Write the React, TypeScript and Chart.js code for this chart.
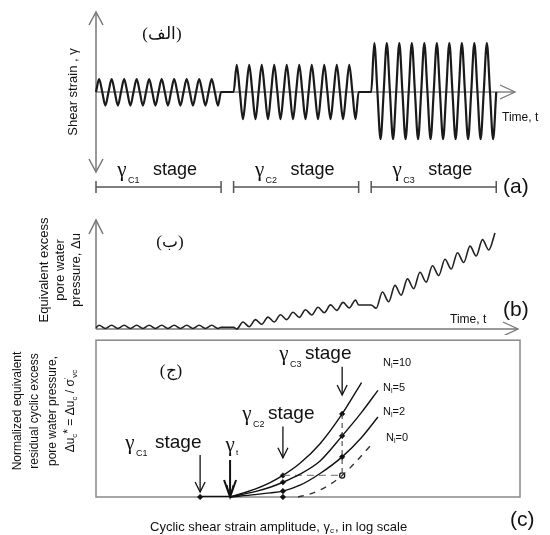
import React, { useEffect, useRef } from "react";
import { Chart, registerables } from "chart.js";

Chart.register(...registerables);

// ---------------- Panel (a): cyclic shear strain history ----------------
const stageNames = ["C1", "C2", "C3"];
const stageStartTimes = [0, 11, 22];
const stageEndTimes = [10, 21, 32];
const strainPeaksC1 = [0.16, 0.16, 0.16, 0.16, 0.16, 0.16, 0.16, 0.16, 0.16, 0.16];
const strainTroughsC1 = [-0.17, -0.17, -0.17, -0.17, -0.17, -0.17, -0.17, -0.17, -0.17, -0.17];
const strainPeaksC2 = [0.34, 0.34, 0.34, 0.34, 0.34, 0.34, 0.34, 0.34, 0.34, 0.34];
const strainTroughsC2 = [-0.34, -0.34, -0.34, -0.34, -0.34, -0.34, -0.34, -0.34, -0.34, -0.34];
const strainPeaksC3 = [0.61, 0.61, 0.61, 0.61, 0.61, 0.61, 0.61, 0.61, 0.61, 0.61];
const strainTroughsC3 = [-0.59, -0.59, -0.59, -0.59, -0.59, -0.59, -0.59, -0.59, -0.59, -0.59];

// ---------------- Panel (b): equivalent excess pore water pressure ----------------
const poreExtremesC1 = [0.035, 0.005, 0.035, 0.005, 0.035, 0.005, 0.035, 0.005, 0.035, 0.005,
  0.035, 0.005, 0.035, 0.005, 0.035, 0.005, 0.035, 0.005, 0.035, 0.005];
const poreExtremesC2 = [0.0, 0.064, 0.021, 0.086, 0.043, 0.109, 0.064, 0.131, 0.086, 0.154,
  0.107, 0.176, 0.129, 0.199, 0.15, 0.221, 0.171, 0.244, 0.193, 0.266];
const poreExtremesC3 = [0.19, 0.34, 0.25, 0.40, 0.31, 0.46, 0.37, 0.52, 0.43, 0.58,
  0.49, 0.64, 0.55, 0.70, 0.61, 0.76, 0.67, 0.82, 0.725, 0.88];
const poreStageStartValues = [0.01, 0.015, 0.22];
const poreStageEndValues = [0.015, 0.22, NaN];
const poreFirstExtremeOffset = [0.25, 0.25, 0.4];

// ---------------- Panel (c): normalized residual pore pressure vs strain ----------------
const gammaC1 = 0.0096;
const gammaT = 0.0184;
const gammaC2 = 0.058;
const gammaC3 = 0.21;
const curveGammas = [0.0184, 0.0316, 0.0439, 0.058, 0.084, 0.13, 0.21, 0.32, 0.457];
const n10Values = [0, 0.05, 0.092, 0.1375, 0.215, 0.34, 0.53, 0.73];
const n5Values = [0, 0.034, 0.062, 0.094, 0.146, 0.23, 0.39, 0.54, 0.68];
const n2Values = [0, 0.015, 0.026, 0.0375, 0.075, 0.15, 0.256, 0.38, 0.51];
const n0Gammas = [0.0805, 0.105, 0.13, 0.161, 0.21, 0.284, 0.385];
const n0Values = [0, 0.02, 0.045, 0.08, 0.1375, 0.225, 0.325];
const cycleLabels = ["10", "5", "2", "0"];

const SANS = "'Liberation Sans', Arial, sans-serif";
const SERIF = "'Liberation Serif', 'Times New Roman', serif";
const INK = "#111";

type Part = { t: string; font: string; dy?: number };

function drawRich(ctx: CanvasRenderingContext2D, x: number, y: number, parts: Part[], align: "left" | "center") {
  let w = 0;
  for (const p of parts) { ctx.font = p.font; w += ctx.measureText(p.t).width; }
  let cx = align === "center" ? x - w / 2 : x;
  ctx.textAlign = "left";
  ctx.textBaseline = "middle";
  for (const p of parts) {
    ctx.font = p.font;
    ctx.fillText(p.t, cx, y + (p.dy || 0));
    cx += ctx.measureText(p.t).width;
  }
}

function text(ctx: CanvasRenderingContext2D, s: string, x: number, y: number, font: string, align: CanvasTextAlign = "left") {
  ctx.font = font;
  ctx.textAlign = align;
  ctx.textBaseline = "middle";
  ctx.fillText(s, x, y);
}

function rotatedLines(ctx: CanvasRenderingContext2D, lines: (string | Part[])[], xs: number[], cy: number, font: string) {
  lines.forEach((ln, i) => {
    ctx.save();
    ctx.translate(xs[i], cy);
    ctx.rotate(-Math.PI / 2);
    if (typeof ln === "string") text(ctx, ln, 0, 0, font, "center");
    else drawRich(ctx, 0, 0, ln, "center");
    ctx.restore();
  });
}

function chevron(ctx: CanvasRenderingContext2D, tx: number, ty: number, dir: "up" | "down" | "right", len: number, half: number) {
  ctx.beginPath();
  if (dir === "up") { ctx.moveTo(tx - half, ty + len); ctx.lineTo(tx, ty); ctx.lineTo(tx + half, ty + len); }
  if (dir === "down") { ctx.moveTo(tx - half, ty - len); ctx.lineTo(tx, ty); ctx.lineTo(tx + half, ty - len); }
  if (dir === "right") { ctx.moveTo(tx - len, ty - half); ctx.lineTo(tx, ty); ctx.lineTo(tx - len, ty + half); }
  ctx.stroke();
}

function downArrow(ctx: CanvasRenderingContext2D, x: number, y1: number, y2: number, lw: number, len: number, half: number) {
  ctx.lineWidth = lw;
  ctx.beginPath(); ctx.moveTo(x, y1); ctx.lineTo(x, y2); ctx.stroke();
  chevron(ctx, x, y2, "down", len, half);
}

function stageLabel(ctx: CanvasRenderingContext2D, gx: number, y: number, sub: string, stageX: number, gSize: number, sSize: number) {
  ctx.fillStyle = INK;
  text(ctx, "γ", gx, y, `${gSize}px ${SERIF}`, "center");
  text(ctx, sub, gx + 6, y + 11, `${Math.round(gSize * 0.45)}px ${SANS}`, "left");
  text(ctx, "stage", stageX, y, `${sSize}px ${SANS}`, "left");
}

function buildStrainWave() {
  const peaks = [strainPeaksC1, strainPeaksC2, strainPeaksC3];
  const troughs = [strainTroughsC1, strainTroughsC2, strainTroughsC3];
  const pts: { x: number; y: number }[] = [];
  for (let s = 0; s < 3; s++) {
    const start = stageStartTimes[s];
    pts.push({ x: start, y: 0 });
    for (let k = 0; k < peaks[s].length; k++) {
      const t0 = start + k;
      pts.push({ x: t0 + 0.25, y: peaks[s][k] });
      pts.push({ x: t0 + 0.5, y: 0 });
      pts.push({ x: t0 + 0.75, y: troughs[s][k] });
      pts.push({ x: t0 + 1, y: 0 });
    }
  }
  return pts;
}

function buildPoreWave() {
  const ext = [poreExtremesC1, poreExtremesC2, poreExtremesC3];
  const pts: { x: number; y: number }[] = [];
  for (let s = 0; s < 3; s++) {
    pts.push({ x: stageStartTimes[s], y: poreStageStartValues[s] });
    ext[s].forEach((v, k) => pts.push({ x: stageStartTimes[s] + poreFirstExtremeOffset[s] + 0.5 * k, y: v }));
    if (!isNaN(poreStageEndValues[s])) pts.push({ x: stageEndTimes[s], y: poreStageEndValues[s] });
  }
  return pts;
}

const baseOptions = (padding: any, xScale: any, yScale: any, plugin: any) => ({
  responsive: false,
  animation: false as const,
  devicePixelRatio: 1,
  events: [] as any[],
  layout: { padding },
  plugins: { legend: { display: false }, tooltip: { enabled: false }, title: { display: false } },
  scales: { x: { ...xScale, display: false }, y: { ...yScale, display: false } },
});

export default function App() {
  const refA = useRef<HTMLCanvasElement>(null);
  const refB = useRef<HTMLCanvasElement>(null);
  const refC = useRef<HTMLCanvasElement>(null);

  useEffect(() => {
    // ---------- Chart (a) ----------
    const pluginA = {
      id: "decoA",
      beforeDatasetsDraw(chart: any) {
        const { ctx, scales } = chart;
        const xs = scales.x, ys = scales.y;
        const x0 = xs.getPixelForValue(0), y0 = ys.getPixelForValue(0);
        ctx.save();
        ctx.strokeStyle = "#777"; ctx.lineWidth = 1.5;
        ctx.beginPath(); ctx.moveTo(x0, ys.top); ctx.lineTo(x0, ys.bottom); ctx.stroke();
        chevron(ctx, x0, ys.top, "up", 13, 7);
        chevron(ctx, x0, ys.bottom, "down", 13, 7);
        ctx.strokeStyle = "#444"; ctx.lineWidth = 1;
        ctx.beginPath(); ctx.moveTo(x0, y0); ctx.lineTo(xs.right, y0); ctx.stroke();
        ctx.strokeStyle = "#777"; ctx.lineWidth = 1.3;
        chevron(ctx, xs.right, y0, "right", 15, 7);
        ctx.restore();
      },
      afterDraw(chart: any) {
        const { ctx, scales } = chart;
        const xs = scales.x, ys = scales.y;
        ctx.save();
        ctx.fillStyle = INK;
        text(ctx, "Time, t", 502, 118, `12px ${SANS}`);
        rotatedLines(ctx, ["Shear strain , γ"], [73], ys.getPixelForValue(0), `13px ${SANS}`);
        text(ctx, "(الف)", 162, 35, `17px ${SERIF}`, "center");
        const by = 187;
        ctx.strokeStyle = "#555"; ctx.lineWidth = 1.5;
        for (let s = 0; s < 3; s++) {
          const a = xs.getPixelForValue(stageStartTimes[s]);
          const b = xs.getPixelForValue(stageEndTimes[s]);
          ctx.beginPath();
          ctx.moveTo(a, by); ctx.lineTo(b, by);
          ctx.moveTo(a, by - 6); ctx.lineTo(a, by + 6);
          ctx.moveTo(b, by - 6); ctx.lineTo(b, by + 6);
          ctx.stroke();
          stageLabel(ctx, a + 26, 170, stageNames[s], a + 57, 21, 18);
        }
        text(ctx, "(a)", 503, 187, `21px ${SANS}`);
        ctx.restore();
      },
    };
    const chartA = new Chart(refA.current!, {
      type: "line",
      data: {
        datasets: [{
          data: buildStrainWave(),
          borderColor: "#1a1a1a", borderWidth: 2.2, pointRadius: 0,
          cubicInterpolationMode: "monotone", clip: false as any,
        }],
      },
      options: baseOptions({ left: 96, right: 35, top: 12, bottom: 28 },
        { type: "linear", min: 0, max: 33.5 }, { type: "linear", min: -1, max: 1 }, null) as any,
      plugins: [pluginA],
    });

    // ---------- Chart (b) ----------
    const pluginB = {
      id: "decoB",
      beforeDatasetsDraw(chart: any) {
        const { ctx, scales } = chart;
        const xs = scales.x, ys = scales.y;
        const x0 = xs.getPixelForValue(0), y0 = ys.getPixelForValue(0);
        ctx.save();
        ctx.strokeStyle = "#777"; ctx.lineWidth = 1.5;
        ctx.beginPath(); ctx.moveTo(x0, ys.top); ctx.lineTo(x0, y0); ctx.stroke();
        chevron(ctx, x0, ys.top, "up", 14, 7);
        ctx.lineWidth = 1.3;
        ctx.beginPath(); ctx.moveTo(x0, y0); ctx.lineTo(xs.right + 3, y0); ctx.stroke();
        chevron(ctx, xs.right + 3, y0, "right", 15, 7);
        ctx.restore();
      },
      afterDraw(chart: any) {
        const { ctx } = chart;
        ctx.save();
        ctx.fillStyle = INK;
        text(ctx, "Time, t", 450, 120, `12px ${SANS}`);
        text(ctx, "(b)", 503, 110, `21px ${SANS}`);
        text(ctx, "(ب)", 170, 43, `17px ${SERIF}`, "center");
        rotatedLines(ctx, ["Equivalent excess", "pore water", "pressure, Δu"], [44, 60, 76], 70, `13px ${SANS}`);
        ctx.restore();
      },
    };
    const chartB = new Chart(refB.current!, {
      type: "line",
      data: {
        datasets: [{
          data: buildPoreWave(),
          borderColor: "#222", borderWidth: 1.6, pointRadius: 0,
          cubicInterpolationMode: "monotone", clip: false as any,
        }],
      },
      options: baseOptions({ left: 96, right: 35, top: 20, bottom: 6 },
        { type: "linear", min: 0, max: 33.5 }, { type: "linear", min: 0, max: 1 }, null) as any,
      plugins: [pluginB],
    });

    // ---------- Chart (c) ----------
    const pluginC = {
      id: "decoC",
      beforeDatasetsDraw(chart: any) {
        const { ctx, chartArea } = chart;
        ctx.save();
        ctx.strokeStyle = "#888"; ctx.lineWidth = 1.5;
        ctx.strokeRect(chartArea.left, chartArea.top, chartArea.right - chartArea.left, chartArea.bottom - chartArea.top);
        ctx.restore();
      },
      afterDraw(chart: any) {
        const { ctx, scales } = chart;
        const xs = scales.x, ys = scales.y;
        ctx.save();
        ctx.fillStyle = INK; ctx.strokeStyle = INK;
        const f12 = `12px ${SANS}`, f8 = `8px ${SANS}`;
        rotatedLines(ctx, [
          "Normalized equivalent",
          "residual cyclic excess",
          "pore water pressure,",
          [
            { t: "Δu", font: f12 }, { t: "c", font: f8, dy: 4 }, { t: "*", font: f12, dy: -2 },
            { t: " = Δu", font: f12 }, { t: "c", font: f8, dy: 4 }, { t: " / σ", font: f12 },
            { t: "'", font: f8, dy: -4 }, { t: "vc", font: f8, dy: 4 },
          ],
        ], [18, 35, 53, 71], 76, f12);
        text(ctx, "(ج)", 171, 37, `17px ${SERIF}`, "center");

        const pC1 = xs.getPixelForValue(gammaC1), pT = xs.getPixelForValue(gammaT);
        const pC2 = xs.getPixelForValue(gammaC2), pC3 = xs.getPixelForValue(gammaC3);
        const base = ys.getPixelForValue(0);
        downArrow(ctx, pC1, base - 42, base - 5, 1.3, 10, 5);
        downArrow(ctx, pT, base - 37, base, 2, 17, 6);
        ctx.lineWidth = 1; chevron(ctx, pT, base, "down", 12, 3);
        downArrow(ctx, pC2, ys.getPixelForValue(0.45), ys.getPixelForValue(0.25), 1.3, 10, 5);
        downArrow(ctx, pC3, ys.getPixelForValue(0.83), ys.getPixelForValue(0.65), 1.3, 10, 5);

        stageLabel(ctx, 130, 108, "C1", 155, 21, 19);
        text(ctx, "γ", pT, 110, `21px ${SERIF}`, "center");
        text(ctx, "t", pT + 6, 118, `8px ${SANS}`);
        stageLabel(ctx, 247, 79, "C2", 268, 21, 19);
        stageLabel(ctx, 284, 19, "C3", 305, 21, 19);

        const ny = [28, 53, 77, 103];
        cycleLabels.forEach((n, i) => {
          drawRich(ctx, i === 3 ? 386 : 383, ny[i], [
            { t: "N", font: `11px ${SANS}` }, { t: "l", font: `7px ${SANS}`, dy: 3 }, { t: "=" + n, font: `11px ${SANS}` },
          ], "left");
        });
        text(ctx, "Cyclic shear strain amplitude, γ", 150, 192, `13px ${SANS}`);
        ctx.font = `13px ${SANS}`;
        const w1 = ctx.measureText("Cyclic shear strain amplitude, γ").width;
        text(ctx, "c", 150 + w1, 196, `8px ${SANS}`);
        text(ctx, ", in log scale", 150 + w1 + 5, 192, `13px ${SANS}`);
        text(ctx, "(c)", 510, 185, `21px ${SANS}`);
        ctx.restore();
      },
    };
    const pts = (xs: number[], ys: number[]) => ys.map((v, i) => ({ x: xs[i], y: v }));
    const solid = (data: any) => ({
      data, borderColor: "#111", borderWidth: 1.4, pointRadius: 0,
      cubicInterpolationMode: "monotone", clip: false,
    });
    const chartC = new Chart(refC.current!, {
      type: "line",
      data: {
        datasets: [
          { data: [{ x: gammaC1, y: 0 }, { x: gammaT, y: 0 }], borderColor: "#111", borderWidth: 2.6, pointRadius: 0 },
          solid(pts(curveGammas, n10Values)),
          solid(pts(curveGammas, n5Values)),
          solid(pts(curveGammas, n2Values)),
          { ...solid(pts(n0Gammas, n0Values)), borderDash: [6, 6], borderColor: "#333" },
          { data: [{ x: gammaC2, y: n10Values[3] }, { x: gammaC3, y: n0Values[4] }], borderColor: "#888", borderWidth: 1.3, borderDash: [7, 5], pointRadius: 0 },
          { data: [{ x: gammaC3, y: n10Values[6] }, { x: gammaC3, y: n0Values[4] }], borderColor: "#555", borderWidth: 1.2, borderDash: [5, 4], pointRadius: 0 },
          {
            data: [
              { x: gammaC1, y: 0 }, { x: gammaC2, y: 0 },
              { x: gammaC2, y: n10Values[3] }, { x: gammaC2, y: n5Values[3] }, { x: gammaC2, y: n2Values[3] },
              { x: gammaC3, y: n10Values[6] }, { x: gammaC3, y: n5Values[6] }, { x: gammaC3, y: n2Values[6] },
            ],
            showLine: false, pointRadius: 2.8, pointBackgroundColor: "#111", pointBorderColor: "#111", pointBorderWidth: 0.5,
            pointStyle: "rectRot", clip: false,
          },
          {
            data: [{ x: gammaC3, y: n0Values[4] }],
            showLine: false, pointRadius: 2.6, pointBackgroundColor: "#fff", pointBorderColor: "#111", pointBorderWidth: 1.2,
            clip: false,
          },
        ] as any,
      },
      options: baseOptions({ left: 96, right: 30, top: 2, bottom: 38 },
        { type: "logarithmic", min: 0.001, max: 10 }, { type: "linear", min: 0, max: 1 }, null) as any,
      plugins: [pluginC],
    });

    return () => { chartA.destroy(); chartB.destroy(); chartC.destroy(); };
  }, []);

  const cstyle = (top: number): React.CSSProperties => ({ position: "absolute", left: 0, top, display: "block" });
  return (
    <div style={{ position: "absolute", left: 0, top: 0, width: 550, height: 535, background: "#fff", overflow: "hidden" }}>
      <canvas ref={refA} width={550} height={200} style={cstyle(0)} />
      <canvas ref={refB} width={550} height={135} style={cstyle(200)} />
      <canvas ref={refC} width={550} height={200} style={cstyle(335)} />
    </div>
  );
}
